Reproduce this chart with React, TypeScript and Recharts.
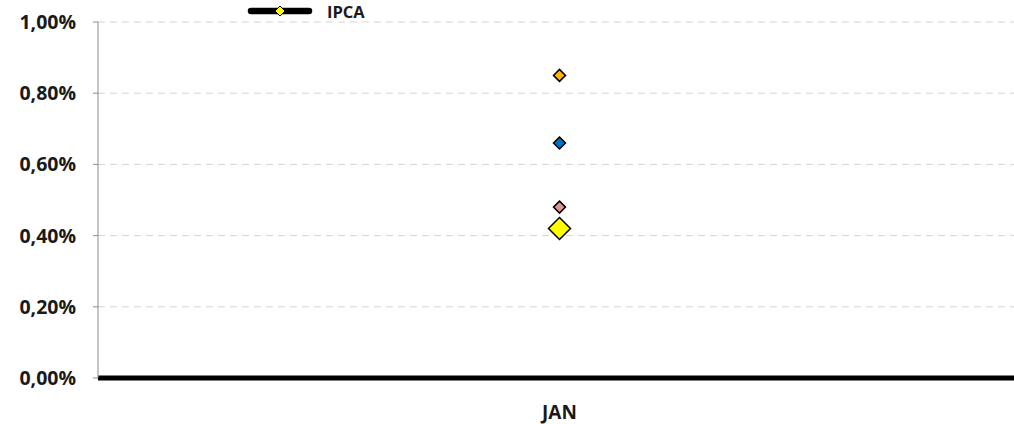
import { ComposedChart, Line, XAxis, YAxis, CartesianGrid } from "recharts"

// ── Data ──
const MONTHS = ["JAN"]
const IPCA = [0.42]
const SERIES_A = [0.85]
const SERIES_B = [0.66]
const SERIES_C = [0.48]
const Y_TICKS = [0, 0.2, 0.4, 0.6, 0.8, 1.0]

const data = MONTHS.map((m, i) => ({
  month: m,
  ipca: IPCA[i],
  a: SERIES_A[i],
  b: SERIES_B[i],
  c: SERIES_C[i],
}))

const FONT = "'Open Sans', sans-serif"

// diamond marker
const diamond = (fill: string, r: number) => (props: any) => {
  const { cx, cy, index } = props
  if (cx == null || cy == null) return <g key={index} />
  return (
    <path
      key={index}
      d={`M${cx},${cy - r} L${cx + r},${cy} L${cx},${cy + r} L${cx - r},${cy} Z`}
      fill={fill}
      stroke="#000"
      strokeWidth={1.5}
    />
  )
}

const fmt = (v: number) => v.toFixed(2).replace(".", ",") + "%"

export default function App() {
  return (
    <div style={{ position: "absolute", left: 0, top: 0, width: 1014, height: 424, background: "#fff", overflow: "hidden" }}>
      <ComposedChart width={1022} height={424} data={data} margin={{ top: 22, right: 1, left: 0, bottom: 0 }}>
        <CartesianGrid vertical={false} stroke="#D4D4D4" strokeDasharray="7 5" />
        <XAxis
          dataKey="month"
          axisLine={{ stroke: "#000", strokeWidth: 5 }}
          tickLine={false}
          height={46}
          tickMargin={22}
          tick={{ fontFamily: FONT, fontWeight: 700, fontSize: 19, fill: "#1a1a1a" }}
        />
        <YAxis
          domain={[0, 1]}
          ticks={Y_TICKS}
          width={98}
          axisLine={{ stroke: "#8c8c8c" }}
          tickLine={{ stroke: "#8c8c8c" }}
          tickSize={5}
          tickMargin={17}
          tickFormatter={fmt}
          tick={{ fontFamily: FONT, fontWeight: 700, fontSize: 19.5, fill: "#1a1a1a" }}
        />
        <Line dataKey="a" stroke="none" dot={diamond("#FFB900", 6)} isAnimationActive={false} />
        <Line dataKey="b" stroke="none" dot={diamond("#0070C0", 6)} isAnimationActive={false} />
        <Line dataKey="c" stroke="none" dot={diamond("#D99694", 6)} isAnimationActive={false} />
        <Line dataKey="ipca" stroke="#000" strokeWidth={5} dot={diamond("#FFFF00", 11)} isAnimationActive={false} />
      </ComposedChart>
      <div style={{ position: "absolute", left: 245, top: 0, display: "flex", alignItems: "center", height: 22 }}>
        <svg width={70} height={22}>
          <line x1={6} y1={11} x2={64} y2={11} stroke="#000" strokeWidth={6.5} strokeLinecap="round" />
          <path d="M35,6 L40,11 L35,16 L30,11 Z" fill="#FFFF00" stroke="#000" strokeWidth={1} />
        </svg>
        <span style={{ marginLeft: 12, fontFamily: FONT, fontWeight: 700, fontSize: 16.5, color: "#1a1a1a" }}>IPCA</span>
      </div>
    </div>
  )
}
